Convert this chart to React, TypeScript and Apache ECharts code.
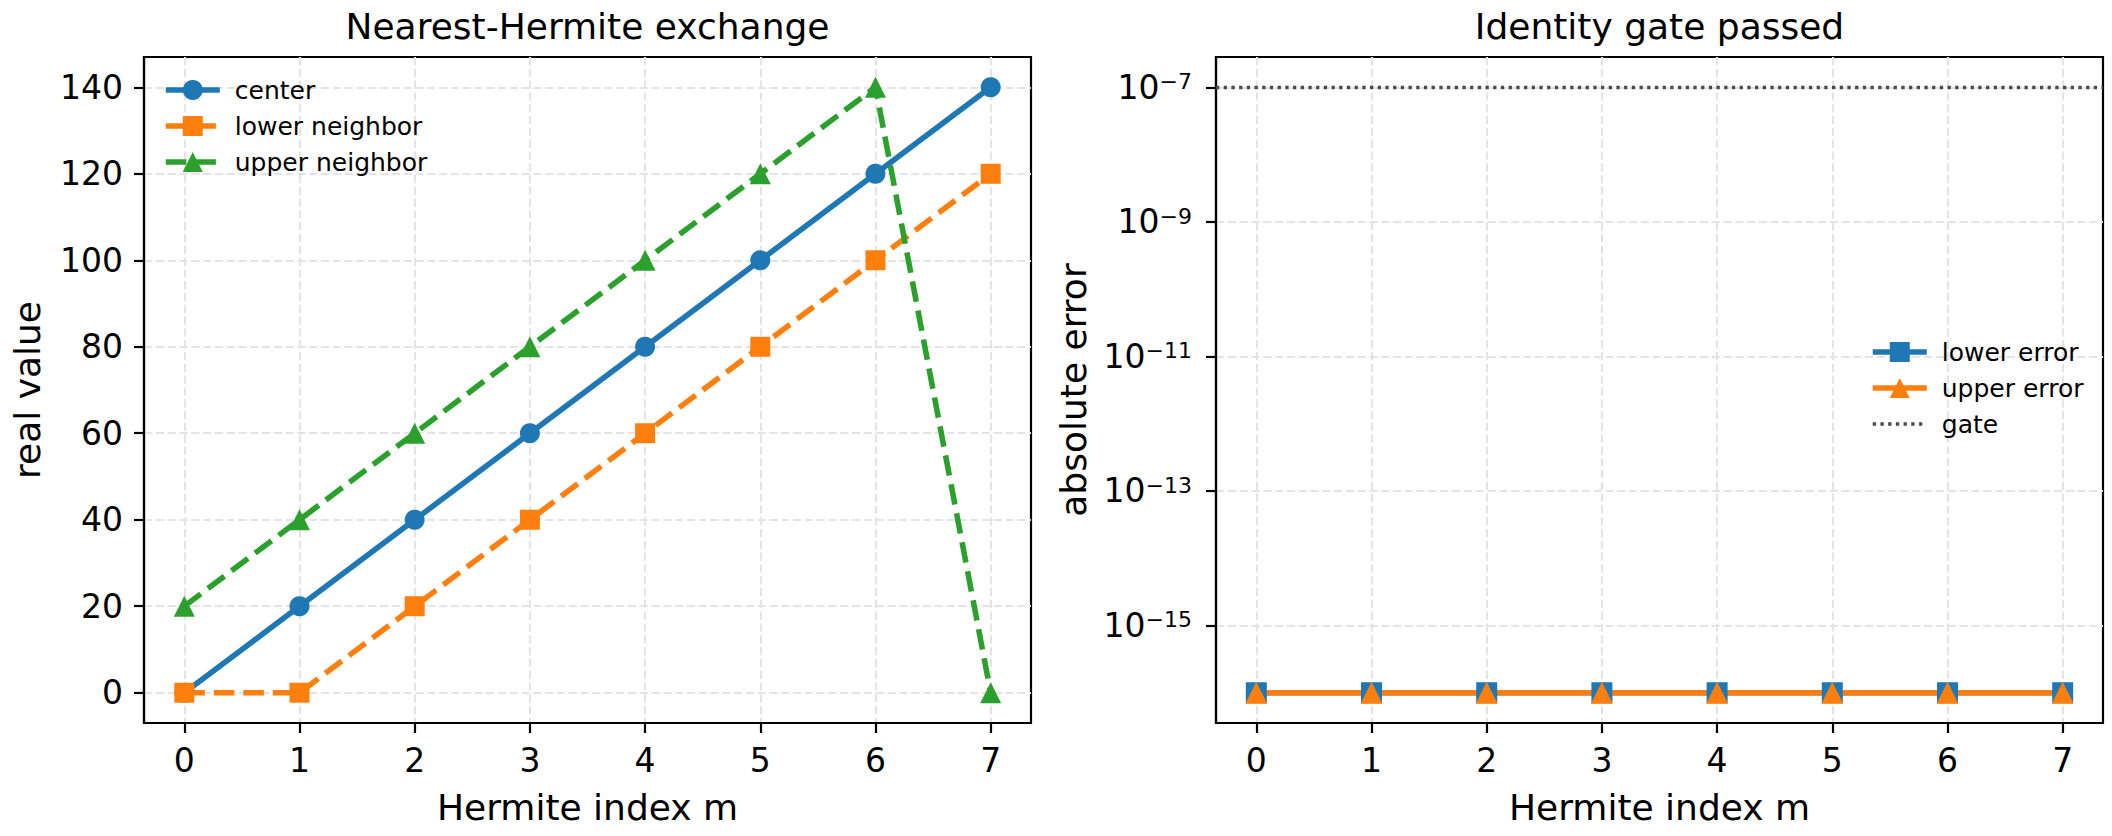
import React, { useEffect, useRef } from 'react';
import * as echarts from 'echarts';

// ---------- data ----------
const hermiteIndex = [0, 1, 2, 3, 4, 5, 6, 7];
const centerValues = [0, 20, 40, 60, 80, 100, 120, 140];
const lowerNeighborValues = [0, 0, 20, 40, 60, 80, 100, 120];
const upperNeighborValues = [20, 40, 60, 80, 100, 120, 140, 0];
const lowerErrorValues = [1e-16, 1e-16, 1e-16, 1e-16, 1e-16, 1e-16, 1e-16, 1e-16];
const upperErrorValues = [1e-16, 1e-16, 1e-16, 1e-16, 1e-16, 1e-16, 1e-16, 1e-16];
const gateValue = 1e-7;
const leftYTicks = [0, 20, 40, 60, 80, 100, 120, 140];
const rightYTicks = [1e-15, 1e-13, 1e-11, 1e-9, 1e-7];

const FONT = "'DejaVu Sans', sans-serif";
const BLUE = '#1f77b4';
const ORANGE = '#ff7f0e';
const GREEN = '#2ca02c';
const GATE_COLOR = '#4a4a4a';
const LW = 5.56;
const DASH = [20.6, 8.9];
const DOT = [3.3, 4.4];

export default function App() {
  const ref = useRef<HTMLDivElement>(null);

  useEffect(() => {
    const chart = echarts.init(ref.current!, null, { renderer: 'svg' });

    const gridLine = {
      show: true,
      lineStyle: { color: '#e4e4e4', width: 2.2, type: [8.2, 3.6] },
    };
    const axisLine = { show: true, onZero: false, lineStyle: { color: '#000', width: 2.2 } };
    const tickStyle = { show: true, length: 10, lineStyle: { color: '#000', width: 2.2 } };
    const nameStyle = { fontFamily: FONT, fontSize: 36, color: '#000' };
    const labelBase = { fontFamily: FONT, fontSize: 33, color: '#000' };

    const xAxisFor = (gridIndex: number) => ({
      type: 'value',
      gridIndex,
      min: -0.35,
      max: 7.35,
      name: 'Hermite index m',
      nameLocation: 'middle',
      nameGap: 66,
      nameTextStyle: nameStyle,
      axisLine,
      axisTick: { ...tickStyle, customValues: hermiteIndex },
      axisLabel: { ...labelBase, customValues: hermiteIndex, margin: 21 },
      splitLine: gridLine,
    });

    const pairs = (ys: number[]) => hermiteIndex.map((m, i) => [m, ys[i]]);

    const legendCommon = {
      orient: 'vertical',
      padding: 0,
      itemWidth: 54,
      itemHeight: 25,
      itemGap: 11,
      selectedMode: false,
      lineStyle: { width: LW },
      textStyle: { fontFamily: FONT, fontSize: 25, color: '#000', padding: [0, 0, 0, 10] },
    };

    const option: any = {
      animation: false,
      textStyle: { fontFamily: FONT },
      title: [
        {
          text: 'Nearest-Hermite exchange',
          left: 587.5,
          top: 8,
          padding: 0,
          textAlign: 'center',
          textStyle: { fontFamily: FONT, fontSize: 36, fontWeight: 'normal', color: '#000' },
        },
        {
          text: 'Identity gate passed',
          left: 1659.5,
          top: 8,
          padding: 0,
          textAlign: 'center',
          textStyle: { fontFamily: FONT, fontSize: 36, fontWeight: 'normal', color: '#000' },
        },
      ],
      grid: [
        { left: 144, top: 57, width: 887, height: 666, show: true, borderColor: '#000', borderWidth: 2.2, containLabel: false },
        { left: 1216, top: 57, width: 887, height: 666, show: true, borderColor: '#000', borderWidth: 2.2, containLabel: false },
      ],
      legend: [
        {
          ...legendCommon,
          data: ['center', 'lower neighbor', 'upper neighbor'],
          left: 163,
          top: 77.5,
        },
        {
          ...legendCommon,
          data: [
            'lower error',
            'upper error',
            { name: 'gate', itemStyle: { opacity: 0 }, lineStyle: { width: 3.3 } },
          ],
          left: 1870,
          top: 339.5,
        },
      ],
      xAxis: [xAxisFor(0), xAxisFor(1)],
      yAxis: [
        {
          type: 'value',
          gridIndex: 0,
          min: -7,
          max: 147,
          splitNumber: 8,
          name: 'real value',
          nameLocation: 'middle',
          nameGap: 99,
          nameTextStyle: nameStyle,
          axisLine,
          axisTick: { ...tickStyle, customValues: leftYTicks },
          axisLabel: { ...labelBase, customValues: leftYTicks, margin: 21 },
          splitLine: gridLine,
        },
        {
          type: 'log',
          logBase: 10,
          gridIndex: 1,
          min: Math.pow(10, -16.45),
          max: Math.pow(10, -6.55),
          name: 'absolute error',
          nameLocation: 'middle',
          nameGap: 125,
          nameTextStyle: nameStyle,
          axisLine,
          axisTick: { ...tickStyle, customValues: rightYTicks },
          axisLabel: {
            customValues: rightYTicks,
            margin: 24,
            formatter: (v: number) => {
              const e = Math.round(Math.log10(v));
              return `{b|10}{s|${e < 0 ? '\u2212' : ''}${Math.abs(e)}}`;
            },
            rich: {
              b: { fontFamily: FONT, fontSize: 33, color: '#000' },
              s: { fontFamily: FONT, fontSize: 22, color: '#000', verticalAlign: 'top' },
            },
          },
          splitLine: gridLine,
        },
      ],
      series: [
        {
          name: 'center',
          type: 'line',
          xAxisIndex: 0,
          yAxisIndex: 0,
          data: pairs(centerValues),
          color: BLUE,
          symbol: 'circle',
          symbolSize: 20,
          lineStyle: { color: BLUE, width: LW },
          itemStyle: { color: BLUE },
        },
        {
          name: 'lower neighbor',
          type: 'line',
          xAxisIndex: 0,
          yAxisIndex: 0,
          data: pairs(lowerNeighborValues),
          color: ORANGE,
          symbol: 'rect',
          symbolSize: 20,
          lineStyle: { color: ORANGE, width: LW, type: DASH },
          itemStyle: { color: ORANGE },
        },
        {
          name: 'upper neighbor',
          type: 'line',
          xAxisIndex: 0,
          yAxisIndex: 0,
          data: pairs(upperNeighborValues),
          color: GREEN,
          symbol: 'triangle',
          symbolSize: 21,
          lineStyle: { color: GREEN, width: LW, type: DASH },
          itemStyle: { color: GREEN },
        },
        {
          name: 'gate',
          type: 'line',
          xAxisIndex: 1,
          yAxisIndex: 1,
          data: [],
          color: GATE_COLOR,
          symbol: 'none',
          lineStyle: { color: GATE_COLOR, width: 3.3, type: DOT },
          itemStyle: { color: GATE_COLOR },
        },
        {
          name: 'lower error',
          type: 'line',
          xAxisIndex: 1,
          yAxisIndex: 1,
          data: pairs(lowerErrorValues),
          color: BLUE,
          symbol: 'rect',
          symbolSize: 21,
          lineStyle: { color: BLUE, width: LW },
          itemStyle: { color: BLUE },
          markLine: {
            silent: true,
            symbol: 'none',
            precision: 20,
            label: { show: false },
            lineStyle: { color: GATE_COLOR, width: 3.3, type: DOT },
            data: [{ yAxis: gateValue }],
          },
        },
        {
          name: 'upper error',
          type: 'line',
          xAxisIndex: 1,
          yAxisIndex: 1,
          data: pairs(upperErrorValues),
          color: ORANGE,
          symbol: 'triangle',
          symbolSize: 22,
          lineStyle: { color: ORANGE, width: LW },
          itemStyle: { color: ORANGE },
        },
      ],
    };

    chart.setOption(option);
    return () => chart.dispose();
  }, []);

  return (
    <div
      ref={ref}
      style={{ position: 'fixed', left: 0, top: 0, width: 2112, height: 836, background: '#fff' }}
    />
  );
}
